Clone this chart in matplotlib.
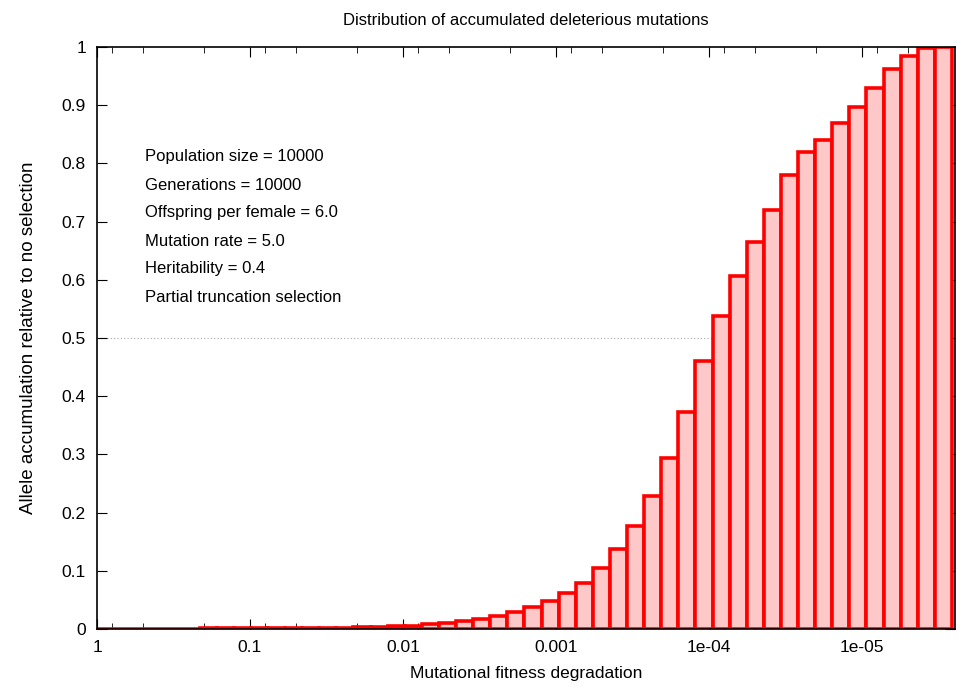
import numpy as np
import matplotlib
matplotlib.use("Agg")
import matplotlib.pyplot as plt
from matplotlib.ticker import FixedLocator, FixedFormatter, LogLocator, NullFormatter

# 柱高（从 1 往右，即适应度退化从大到小）
heights = [0.0, 0.0, 0.0005, 0.0005, 0.0005, 0.0008, 0.0008, 0.001,
           0.001, 0.0012, 0.0014, 0.0016, 0.0018, 0.002, 0.0022, 0.0025, 0.003, 0.004,
           0.005, 0.006, 0.008, 0.010, 0.013, 0.017, 0.022, 0.029, 0.037, 0.048,
           0.062, 0.079, 0.104, 0.137, 0.177, 0.228, 0.293, 0.373, 0.46, 0.537,
           0.607, 0.665, 0.72, 0.78, 0.82, 0.84, 0.87, 0.897, 0.93, 0.963,
           0.985, 0.998, 1.0]
heights = heights[-50:]
bin_decades = 0.1118
xticks = [1, 0.1, 0.01, 0.001, 1e-4, 1e-5]
xticklabels = ["1", "0.1", "0.01", "0.001", "1e-04", "1e-05"]
yticks = [0, 0.1, 0.2, 0.3, 0.4, 0.5, 0.6, 0.7, 0.8, 0.9, 1]
yticklabels = ["0", "0.1", "0.2", "0.3", "0.4", "0.5", "0.6", "0.7", "0.8", "0.9", "1"]
info = ["Population size = 10000", "Generations = 10000", "Offspring per female = 6.0",
        "Mutation rate = 5.0", "Heritability = 0.4", "Partial truncation selection"]

plt.rcParams["font.family"] = ["Liberation Sans", "DejaVu Sans"]

edges = 10.0 ** (-bin_decades * np.arange(len(heights) + 1))
xmin = 10.0 ** (-bin_decades * len(heights)) / 10 ** 0.02

fig = plt.figure(figsize=(9.58, 6.89), dpi=100)
ax = fig.add_axes([97 / 958, 1 - 629 / 689, (955 - 97) / 958, (629 - 47) / 689])
ax.set_xscale("log")

ax.axhline(0.5, color="#aaaaaa", linestyle=(0, (1, 2)), linewidth=0.8, zorder=0)
ax.bar(edges[:-1], heights, width=edges[1:] - edges[:-1], align="edge",
       color="#ffc8c8", edgecolor="#ff0000", linewidth=2.6, zorder=2)

ax.set_xlim(1, xmin)
ax.set_ylim(0, 1)
ax.xaxis.set_major_locator(FixedLocator(xticks))
ax.xaxis.set_major_formatter(FixedFormatter(xticklabels))
ax.xaxis.set_minor_locator(LogLocator(base=10, subs=[2, 5, 8]))
ax.xaxis.set_minor_formatter(NullFormatter())
ax.set_yticks(yticks)
ax.set_yticklabels(yticklabels)
ax.tick_params(direction="in", which="both", top=True, right=True, labelsize=12.5, pad=8)
ax.tick_params(which="major", length=7)
ax.tick_params(which="minor", length=4)
for s in ax.spines.values():
    s.set_linewidth(1.2)

for i, line in enumerate(info):
    ax.text(145, 689 - (157 + i * 28), line, transform=None, fontsize=12, va="center")

ax.set_title("Distribution of accumulated deleterious mutations", fontsize=12, pad=16)
ax.set_xlabel("Mutational fitness degradation", fontsize=12.5, labelpad=8)
ax.set_ylabel("Allele accumulation relative to no selection", fontsize=13.5, labelpad=18)

fig.savefig("out.png", dpi=100)
